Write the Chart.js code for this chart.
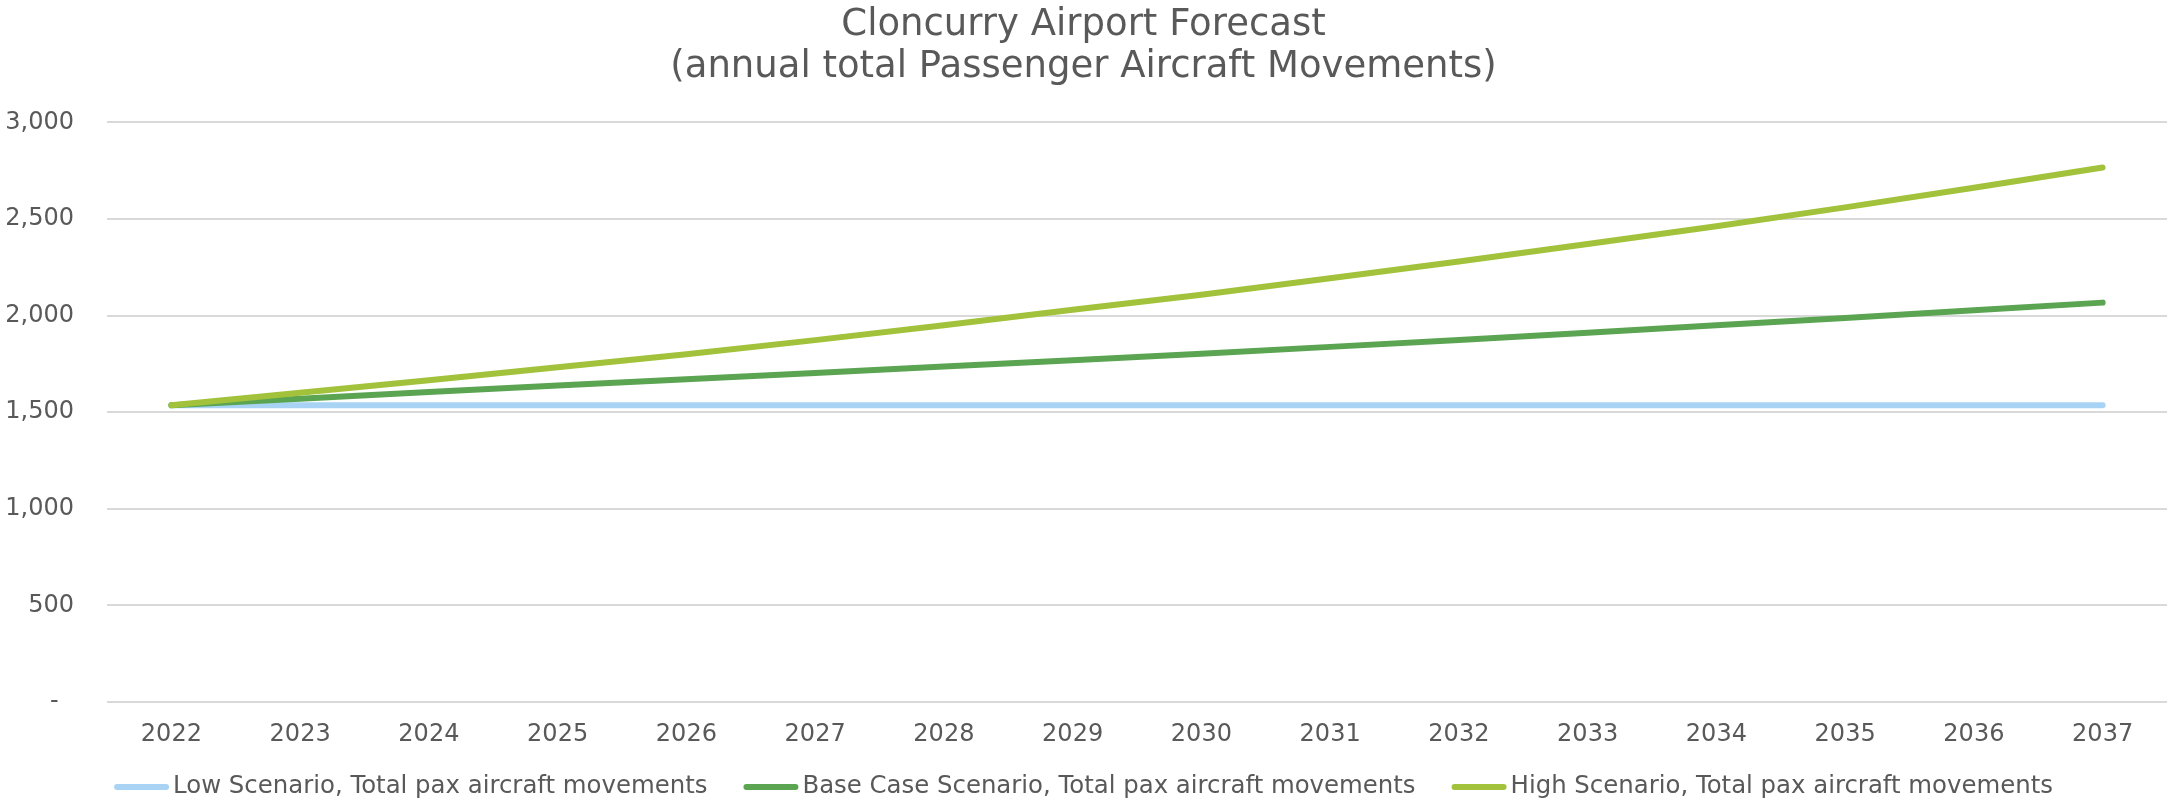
<!DOCTYPE html>
<html>
<head>
<meta charset="utf-8">
<script src="https://cdn.jsdelivr.net/npm/chart.js@4/dist/chart.umd.min.js"></script>
<style>
  html, body { margin: 0; padding: 0; background: #ffffff; }
  #wrap { width: 2167px; height: 802px; position: relative; }
</style>
</head>
<body>
<div id="wrap"><canvas id="c"></canvas></div>
<script>
const years = ['2022','2023','2024','2025','2026','2027','2028','2029','2030','2031','2032','2033','2034','2035','2036','2037'];
const lowScenario  = [1536,1536,1536,1536,1536,1536,1536,1536,1536,1536,1536,1536,1536,1536,1536,1536];
const baseScenario = [1536,1570,1604,1638,1670,1703,1736,1769,1802,1838,1874,1911,1950,1988,2027,2067];
const highScenario = [1536,1600,1665,1733,1800,1873,1950,2030,2108,2193,2280,2370,2462,2560,2662,2766];
const seriesNames = [
  'Low Scenario, Total pax aircraft movements',
  'Base Case Scenario, Total pax aircraft movements',
  'High Scenario, Total pax aircraft movements'
];
const titleLines = ['Cloncurry Airport Forecast', '(annual total Passenger Aircraft Movements)'];

const FONT = '"DejaVu Sans", Verdana, sans-serif';
const TEXT = '#595959';
const colors = ['#A9D3F4', '#5BA552', '#A2C23B'];

const legendPlugin = {
  id: 'bottomLegend',
  afterDraw(chart) {
    const ctx = chart.ctx;
    ctx.save();
    ctx.font = '24.4px ' + FONT;
    const sw = 55, gapText = 4, gapItem = 36;
    const items = chart.data.datasets.map(d => ({ text: d.label, color: d.borderColor, w: ctx.measureText(d.label).width }));
    let total = 0;
    items.forEach((it, i) => { total += sw + gapText + it.w + (i < items.length - 1 ? gapItem : 0); });
    let x = (chart.width - total) / 2;
    const y = 787;
    items.forEach(it => {
      ctx.strokeStyle = it.color;
      ctx.lineWidth = 6;
      ctx.lineCap = 'round';
      ctx.beginPath();
      ctx.moveTo(x + 3, y);
      ctx.lineTo(x + sw - 3, y);
      ctx.stroke();
      ctx.fillStyle = TEXT;
      ctx.textBaseline = 'middle';
      ctx.textAlign = 'left';
      ctx.fillText(it.text, x + sw + gapText, y);
      x += sw + gapText + it.w + gapItem;
    });
    ctx.restore();
  }
};

const mk = (i, data, order) => ({
  label: seriesNames[i],
  data: data,
  borderColor: colors[i],
  backgroundColor: colors[i],
  borderWidth: 6,
  borderCapStyle: 'round',
  borderJoinStyle: 'round',
  pointRadius: 0,
  pointHoverRadius: 0,
  tension: 0,
  fill: false,
  order: order
});

new Chart(document.getElementById('c'), {
  type: 'line',
  data: {
    labels: years,
    datasets: [mk(0, lowScenario, 2), mk(1, baseScenario, 1), mk(2, highScenario, 0)]
  },
  plugins: [legendPlugin],
  options: {
    responsive: true,
    maintainAspectRatio: false,
    animation: false,
    devicePixelRatio: 1,
    layout: { padding: { left: 0, right: 0, top: 0, bottom: 52 } },
    plugins: {
      legend: { display: false },
      tooltip: { enabled: false },
      title: {
        display: true,
        text: titleLines,
        color: TEXT,
        font: { family: FONT, size: 37, weight: 'normal', lineHeight: 1.14 },
        padding: { top: 4, bottom: 34 }
      }
    },
    scales: {
      x: {
        offset: true,
        grid: { display: false, drawTicks: false },
        border: { display: false },
        ticks: { color: TEXT, font: { family: FONT, size: 24 }, padding: 18, maxRotation: 0, autoSkip: false },
        afterFit: s => { s.height = 48; }
      },
      y: {
        min: 0, max: 3000,
        grid: { color: '#D9D9D9', lineWidth: 2, drawTicks: false },
        border: { display: false },
        ticks: {
          stepSize: 500,
          color: TEXT,
          font: { family: FONT, size: 24 },
          padding: 33,
          callback: v => v === 0 ? '-  ' : v.toLocaleString('en-US')
        },
        afterFit: s => { s.width = 107; }
      }
    }
  }
});
</script>
</body>
</html>
